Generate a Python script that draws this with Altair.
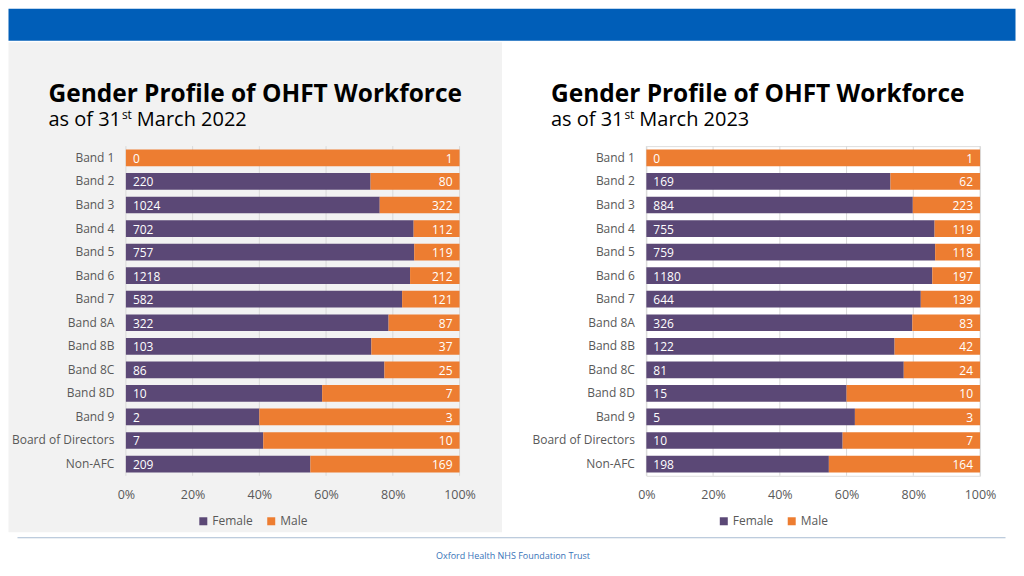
import altair as alt
import pandas as pd

bands = ["Band 1", "Band 2", "Band 3", "Band 4", "Band 5", "Band 6", "Band 7",
         "Band 8A", "Band 8B", "Band 8C", "Band 8D", "Band 9",
         "Board of Directors", "Non-AFC"]
female_2022 = [0, 220, 1024, 702, 757, 1218, 582, 322, 103, 86, 10, 2, 7, 209]
male_2022 = [1, 80, 322, 112, 119, 212, 121, 87, 37, 25, 7, 3, 10, 169]
female_2023 = [0, 169, 884, 755, 759, 1180, 644, 326, 122, 81, 15, 5, 10, 198]
male_2023 = [1, 62, 223, 119, 118, 197, 139, 83, 42, 24, 10, 3, 7, 164]
genders = ["Female", "Male"]
tick_values = [0, 0.2, 0.4, 0.6, 0.8, 1.0]

PURPLE = "#5B4876"
ORANGE = "#ED7D31"
GRAY_TXT = "#595959"
FONT = "Open Sans"

W, H = 334, 330
LEFT_ORIGIN = (125.5, 145.5)
RIGHT_ORIGIN = (646.5, 145.5)
SPACING = RIGHT_ORIGIN[0] - LEFT_ORIGIN[0] - W


def one():
    return alt.Chart(pd.DataFrame({"k": [0]}))


def x_axis():
    return alt.Axis(title=None, format="%", values=tick_values, grid=False,
                    domain=False, ticks=False, labelPadding=13, zindex=2,
                    labelFlush=False, labelFontSize=12.5, labelColor=GRAY_TXT,
                    labelFont=FONT)


def panel(female, male, year, origin, title_px, decorations):
    ox, oy = origin

    def rx(px):
        return px - ox

    def ry(py):
        return py - oy

    rows = []
    for b, f, m in zip(bands, female, male):
        rows.append({"band": b, "gender": "Female", "count": f, "g": 0})
        rows.append({"band": b, "gender": "Male", "count": m, "g": 1})
    df = pd.DataFrame(rows)
    lab = pd.DataFrame({"band": bands, "female": female, "male": male})

    yenc = alt.Y("band:N", sort=bands,
                 scale=alt.Scale(paddingInner=0.29, paddingOuter=0.145),
                 axis=alt.Axis(title=None, domain=False, ticks=False, labelPadding=12,
                               zindex=2, labelFontSize=12, labelColor=GRAY_TXT,
                               labelFont=FONT))

    grid = alt.Chart(pd.DataFrame({"t": tick_values})).mark_rule(
        color="#D9D9D9", strokeWidth=1).encode(
        x=alt.X("t:Q", axis=x_axis(), scale=alt.Scale(domain=[0, 1], nice=False)),
        y=alt.value(0), y2=alt.value(H))

    bars = alt.Chart(df).mark_bar().encode(
        x=alt.X("count:Q", stack="normalize",
                scale=alt.Scale(domain=[0, 1], nice=False), axis=x_axis()),
        y=yenc,
        color=alt.Color("gender:N",
                        scale=alt.Scale(domain=genders, range=[PURPLE, ORANGE]),
                        legend=alt.Legend(title=None, orient="none", direction="horizontal",
                                          legendX=71.5, legendY=ry(515), zindex=2,
                                          symbolType="square", symbolSize=64,
                                          symbolStrokeWidth=0, labelFontSize=12,
                                          labelColor=GRAY_TXT, labelFont=FONT,
                                          labelOffset=3, columnPadding=12, padding=0)),
        order=alt.Order("g:Q"))

    ftxt = alt.Chart(lab).mark_text(align="left", baseline="middle", dx=7, dy=1,
                                    color="white", fontSize=12, font=FONT).encode(
        x=alt.datum(0), y=alt.Y("band:N", sort=bands), text="female:Q")
    mtxt = alt.Chart(lab).mark_text(align="right", baseline="middle", dx=-7, dy=1,
                                    color="white", fontSize=12, font=FONT).encode(
        x=alt.datum(1), y=alt.Y("band:N", sort=bands), text="male:Q")

    tx = title_px
    title = one().mark_text(align="left", baseline="alphabetic", fontSize=24.5,
                            fontWeight="bold", color="black", font=FONT).encode(
        x=alt.value(rx(tx)), y=alt.value(ry(101.5)),
        text=alt.value("Gender Profile of OHFT Workforce"))
    sub1 = one().mark_text(align="left", baseline="alphabetic", fontSize=20,
                           color="black", font=FONT).encode(
        x=alt.value(rx(tx)), y=alt.value(ry(125)), text=alt.value("as of 31"))
    sub2 = one().mark_text(align="left", baseline="alphabetic", fontSize=12,
                           color="black", font=FONT).encode(
        x=alt.value(rx(tx + 73.5)), y=alt.value(ry(118.5)), text=alt.value("st"))
    sub3 = one().mark_text(align="left", baseline="alphabetic", fontSize=20,
                           color="black", font=FONT).encode(
        x=alt.value(rx(tx + 88.5)), y=alt.value(ry(125)), text=alt.value("March " + year))

    layers = decorations(rx, ry) + [grid, bars, ftxt, mtxt, title, sub1, sub2, sub3]
    return alt.layer(*layers).properties(width=W, height=H)


def left_decor(rx, ry):
    band = one().mark_rect(color="#005EB8").encode(
        x=alt.value(rx(8)), x2=alt.value(rx(1016)),
        y=alt.value(ry(8)), y2=alt.value(ry(40)))
    panel_bg = one().mark_rect(color="#F2F2F2").encode(
        x=alt.value(rx(8)), x2=alt.value(rx(502)),
        y=alt.value(ry(41.5)), y2=alt.value(ry(532)))
    line = one().mark_rule(color="#A9BCD2", strokeWidth=1).encode(
        x=alt.value(rx(17)), x2=alt.value(rx(1006)),
        y=alt.value(ry(537.5)))
    foot = one().mark_text(align="center", baseline="middle", fontSize=9,
                           color="#3873B8", font=FONT).encode(
        x=alt.value(rx(513)), y=alt.value(ry(556)),
        text=alt.value("Oxford Health NHS Foundation Trust"))
    return [band, panel_bg, line, foot]


def no_decor(rx, ry):
    return []


left = panel(female_2022, male_2022, "2022", LEFT_ORIGIN, 48, left_decor)
right = panel(female_2023, male_2023, "2023", RIGHT_ORIGIN, 551, no_decor)

chart = alt.hconcat(left, right, spacing=SPACING, bounds="flush", padding=0).resolve_scale(
    color="independent", x="independent", y="independent"
).configure_view(stroke=None).configure(font=FONT, background="white")

chart.save("out.html", embed_options={"renderer": "svg", "actions": False})
